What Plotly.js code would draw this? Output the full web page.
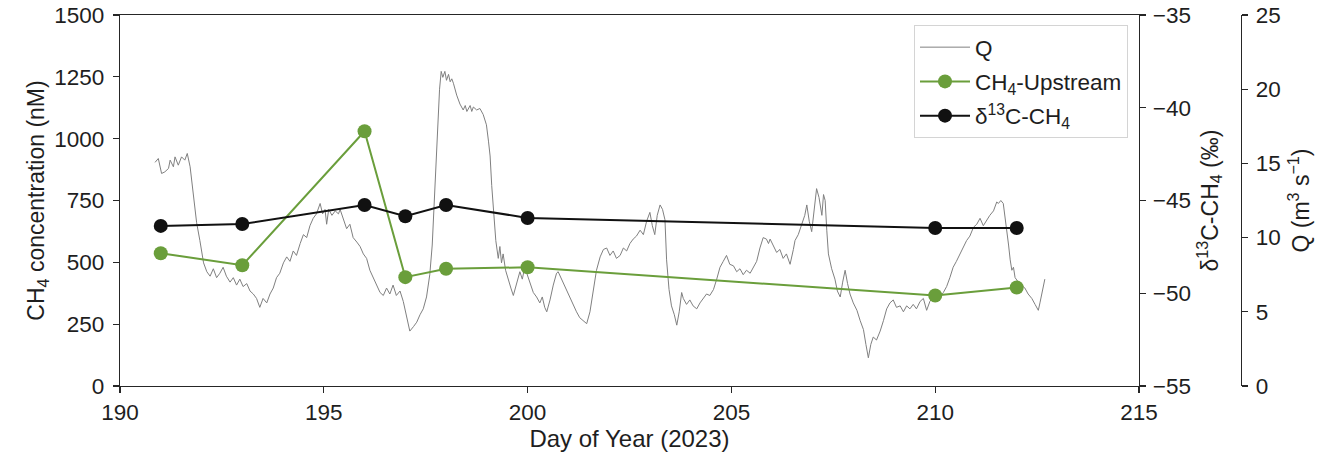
<!DOCTYPE html>
<html>
<head>
<meta charset="utf-8">
<script src="https://cdn.plot.ly/plotly-3.0.1.min.js"></script>
<style>
  html, body { margin: 0; padding: 0; background: #fff; }
  #chart { width: 1327px; height: 460px; }
</style>
</head>
<body>
<div id="chart"></div>
<script>
// ---- data ----
const sampleDays = [191, 193, 196, 197, 198, 200, 210, 212];
const ch4Upstream = [537, 488, 1030, 440, 474, 480, 366, 398];
const d13cDays = [191, 193, 196, 197, 198, 200, 210, 212];
const d13cCH4 = [-46.37, -46.27, -45.24, -45.85, -45.24, -45.94, -46.48, -46.48];

const qDay = [
  190.86,190.94,191.02,191.10,191.19,191.23,191.31,191.35,191.43,191.51,191.59,191.65,191.72,
  191.80,191.88,191.96,192.05,192.13,
  192.21,192.29,192.37,192.45,192.53,192.61,192.70,192.78,192.86,192.94,193.02,193.11,193.19,193.27,193.35,193.43,193.51,193.60,193.68,193.76,
  193.84,193.92,194.01,194.09,194.17,194.25,194.33,194.42,194.50,194.58,194.66,194.74,194.82,194.91,
  194.97,195.03,195.07,195.12,195.20,195.28,195.36,195.40,195.48,195.56,195.64,195.72,195.81,195.89,195.97,196.05,196.13,196.21,196.30,196.38,196.46,196.54,196.62,196.70,196.78,196.87,196.95,197.03,197.11,197.20,197.28,197.36,197.44,197.52,197.60,197.66,197.72,197.78,197.84,197.88,
  197.92,197.97,198.01,198.06,198.10,198.14,198.18,198.26,198.34,198.42,198.47,198.51,198.59,198.63,198.67,198.75,198.83,198.91,198.99,199.04,199.08,199.12,199.16,199.22,199.28,199.32,199.36,199.40,199.46,199.53,199.59,199.65,199.71,199.77,199.81,199.87,199.93,199.98,
  200.06,200.14,200.22,200.30,200.36,200.42,200.47,200.55,200.63,200.71,200.75,200.83,200.91,200.96,201.04,201.12,201.20,201.28,201.36,201.45,201.53,201.61,201.69,201.78,201.86,201.94,202.02,202.10,202.18,202.27,202.35,202.43,202.51,202.59,202.67,202.76,202.84,202.92,203.00,203.06,203.12,203.18,203.25,203.31,203.37,203.41,203.47,203.53,203.60,203.66,203.72,203.78,203.82,203.90,203.98,204.06,204.15,204.23,204.31,204.39,204.47,204.56,204.64,204.72,204.80,204.88,204.96,205.05,205.13,205.21,205.29,205.37,205.46,205.54,205.62,205.70,205.78,205.86,205.91,
  205.95,206.03,206.11,206.19,206.27,206.35,206.44,206.52,206.56,206.64,206.72,206.80,206.85,206.91,206.97,207.03,207.09,207.15,207.22,207.26,207.30,207.34,207.38,207.46,207.54,207.60,207.67,207.73,207.79,207.85,207.91,207.99,208.08,208.16,208.24,208.30,208.36,208.42,208.48,208.56,208.65,208.73,208.81,208.89,208.97,209.05,209.14,209.22,209.30,209.38,209.46,209.54,209.63,209.71,209.79,209.87,209.95,210.04,210.12,210.20,210.28,210.36,210.44,210.52,210.61,210.69,210.77,210.85,210.94,211.02,211.10,211.18,211.26,211.34,211.43,211.51,211.55,211.61,211.67,211.71,211.75,211.80,211.84,211.88,211.92,211.96,212.04,212.12,212.20,212.28,212.37,212.45,212.53,212.57,212.61,212.69
];
const qVal = [
  15.07,15.33,14.32,14.43,14.66,15.22,14.77,15.44,14.88,15.44,15.22,15.67,14.77,
  13.0,11.0,9.8,8.3,7.7,
  7.4,7.9,7.3,7.6,8.0,7.4,7.0,7.3,6.8,7.2,6.7,6.9,6.4,6.2,5.9,5.3,5.9,5.6,6.2,6.6,
  7.3,7.6,8.3,8.7,8.4,9.1,8.8,9.6,10.2,10.0,10.8,11.3,11.6,12.3,
  11.6,11.9,10.9,11.9,11.5,11.8,11.6,11.9,11.2,10.6,10.9,10.0,9.7,9.4,8.9,8.6,7.8,7.3,6.7,6.3,6.1,6.6,6.2,6.8,6.1,6.4,5.7,4.6,3.7,4.0,4.3,4.8,5.2,6.0,7.5,9.5,13.0,17.0,20.0,21.2,
  20.8,21.2,20.6,21.0,20.5,20.7,20.4,19.6,19.0,18.6,18.9,18.5,18.9,18.5,18.8,18.6,18.7,18.3,17.6,16.5,15.5,13.5,11.8,9.8,8.6,9.4,8.3,8.9,7.8,7.1,6.6,6.1,6.7,7.4,7.7,7.2,8.0,7.6,
  7.0,6.3,6.0,5.6,6.0,5.3,5.0,5.8,6.8,7.6,7.7,7.2,6.7,6.4,6.0,5.5,5.0,4.6,4.4,4.2,5.0,6.5,7.8,8.7,9.2,9.3,8.8,9.1,8.6,8.8,9.3,9.1,9.6,9.9,10.1,10.5,10.2,11.1,11.7,10.8,10.2,11.5,12.2,11.9,11.2,8.5,6.5,5.4,4.8,4.1,5.0,6.3,5.9,5.5,5.8,5.4,5.2,5.6,5.9,6.2,6.1,6.5,7.2,8.0,8.4,8.8,8.2,8.1,7.7,7.9,7.5,7.8,7.6,8.0,8.4,9.3,10.0,9.9,9.6,
  9.9,9.4,9.0,9.2,8.6,8.9,8.2,9.2,9.8,10.2,10.8,11.5,12.2,11.1,10.4,12.0,13.3,12.7,11.5,12.9,12.5,10.5,8.9,7.9,7.2,6.4,6.0,7.0,7.8,6.9,6.2,5.6,5.1,4.4,3.8,2.8,1.9,2.8,3.3,3.1,3.7,4.4,5.2,5.6,5.8,5.3,5.4,5.0,5.4,5.2,5.5,5.2,5.7,5.9,5.1,5.7,6.0,5.8,6.0,6.3,6.7,7.3,8.0,8.4,8.9,9.3,9.8,10.1,10.7,10.9,11.3,10.8,11.2,11.5,11.8,12.4,12.3,12.5,12.3,11.5,10.6,9.5,8.5,7.8,8.0,7.3,7.0,6.8,6.6,6.2,5.9,5.5,5.1,5.6,6.2,7.2
];

const xTicks = [190, 195, 200, 205, 210, 215];
const ch4Ticks = [0, 250, 500, 750, 1000, 1250, 1500];
const d13cTicks = [-55, -50, -45, -40, -35];
const qTicks = [0, 5, 10, 15, 20, 25];

// ---- styling ----
const FONT = 'Liberation Sans, Arial, Helvetica, sans-serif';
const AX = '#262626';
const TXT = '#1e1e1e';
const GREEN = '#6a9e3b';
const BLACK = '#111111';

const traces = [
  {
    x: qDay, y: qVal, yaxis: 'y', xaxis: 'x', name: 'Q',
    type: 'scatter', mode: 'lines',
    line: { color: '#808080', width: 1 },
    legendgroup: 'a'
  },
  {
    x: sampleDays, y: ch4Upstream, yaxis: 'y2', xaxis: 'x', name: 'CH<sub>4</sub>-Upstream',
    type: 'scatter', mode: 'lines+markers',
    line: { color: GREEN, width: 2 },
    marker: { color: GREEN, size: 14 },
    legendgroup: 'b'
  },
  {
    x: d13cDays, y: d13cCH4, yaxis: 'y3', xaxis: 'x', name: 'δ<sup>13</sup>C-CH<sub>4</sub>',
    type: 'scatter', mode: 'lines+markers',
    line: { color: BLACK, width: 2 },
    marker: { color: BLACK, size: 14 },
    legendgroup: 'c'
  }
];

const TICK = 22.5;
const axisCommon = {
  showgrid: false, zeroline: false, showline: true,
  linecolor: AX, linewidth: 1.3,
  ticks: 'outside', ticklen: 6, tickwidth: 1.3, tickcolor: AX,
  tickfont: { family: FONT, size: TICK, color: TXT }
};

const plotRight = 1139, plotLeft = 120, qAxisX = 1241;
const xDomainEnd = (plotRight - plotLeft) / (qAxisX - plotLeft);

const layout = {
  width: 1327, height: 460,
  margin: { l: 120, r: 1327 - qAxisX, t: 15, b: 74 },
  paper_bgcolor: '#ffffff', plot_bgcolor: '#ffffff',
  font: { family: FONT, size: TICK, color: TXT },
  showlegend: true,
  legend: {
    x: (1128 - plotLeft) / (qAxisX - plotLeft), xanchor: 'right',
    y: 0.973, yanchor: 'top',
    bgcolor: 'rgba(255,255,255,0.85)', bordercolor: '#d4d4d4', borderwidth: 1,
    font: { family: FONT, size: 22.5, color: TXT },
    traceorder: 'grouped', tracegroupgap: 2,
    itemwidth: 50
  },
  xaxis: Object.assign({}, axisCommon, {
    domain: [0, xDomainEnd], range: [190, 215],
    tickvals: xTicks, mirror: true, anchor: 'y',
    automargin: true,
    title: { text: 'Day of Year (2023)', font: { family: FONT, size: 24, color: TXT }, standoff: 6 }
  }),
  yaxis: Object.assign({}, axisCommon, {
    range: [0, 25], tickvals: qTicks, side: 'right', anchor: 'free', position: 1,
    ticklabelstandoff: 3,
    title: { text: 'Q (m<sup>3</sup> s<sup>−1</sup>)', font: { family: FONT, size: 23, color: TXT } }
  }),
  yaxis2: Object.assign({}, axisCommon, {
    range: [0, 1500], tickvals: ch4Ticks, side: 'left', overlaying: 'y', anchor: 'x',
    ticklabelstandoff: 4,
    title: { text: 'CH<sub>4</sub> concentration (nM)', font: { family: FONT, size: 23, color: TXT } }
  }),
  yaxis3: Object.assign({}, axisCommon, {
    range: [-55, -35], tickvals: d13cTicks, side: 'right', overlaying: 'y', anchor: 'x',
    ticklabelstandoff: 2,
    title: { text: 'δ<sup>13</sup>C-CH<sub>4</sub> (‰)', font: { family: FONT, size: 23, color: TXT } }
  })
};

Plotly.newPlot('chart', traces, layout, { displayModeBar: false, staticPlot: true });
</script>
</body>
</html>
